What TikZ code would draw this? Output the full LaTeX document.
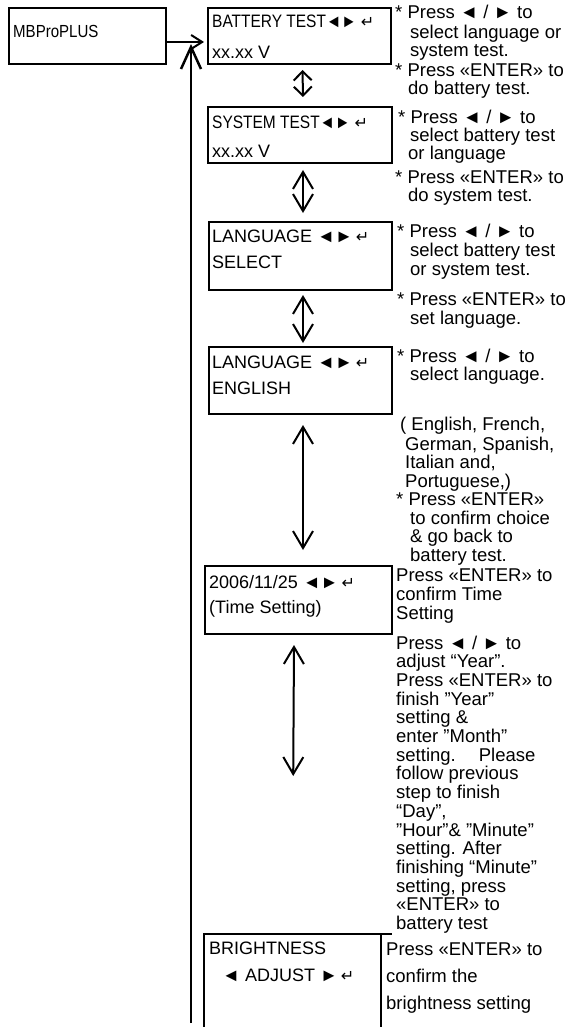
\documentclass[tikz,border=0pt]{standalone}
\usepackage{fontspec}
\setmainfont{Liberation Sans}
\newfontfamily\narrowf[FakeStretch=0.86]{Liberation Sans}
\newfontfamily\dvs{DejaVu Sans}
\usetikzlibrary{arrows.meta,calc}
\newcommand\ent{{\dvs\fontsize{16}{16}\selectfont ↵}}
\tikzset{
  box/.style={draw, line width=2pt, inner sep=0pt, anchor=north west},
  lbl/.style={anchor=base west, inner sep=0pt, font=\fontsize{18.5}{18.5}\selectfont},
  blbl/.style={anchor=base west, inner sep=0pt, font=\fontsize{18}{18}\selectfont},
  slbl/.style={anchor=base west, inner sep=0pt, font=\fontsize{18}{18}\selectfont},
  nlbl/.style={anchor=base west, inner sep=0pt, font=\narrowf\fontsize{18}{18}\selectfont},
  dbl/.style={line width=2pt, {Straight Barb[length=17pt,width=20pt]}-{Straight Barb[length=17pt,width=20pt]}},
  dbls/.style={line width=2pt, {Straight Barb[length=9pt,width=18pt]}-{Straight Barb[length=9pt,width=18pt]}},
}
\begin{document}
\begin{tikzpicture}[x=1pt,y=-1pt]
\useasboundingbox (0,0) rectangle (567,1027);
% boxes
\node[box, minimum width=157pt, minimum height=56pt] (mb) at (8,7) {};
\node[box, minimum width=183pt, minimum height=56pt] (bat) at (207,7) {};
\node[box, minimum width=184pt, minimum height=56pt] (sys) at (207,106) {};
\node[box, minimum width=183pt, minimum height=68pt] (ls) at (208,221) {};
\node[box, minimum width=183pt, minimum height=67pt] (en) at (208,346) {};
\node[box, minimum width=187pt, minimum height=68pt] (tm) at (204,565) {};
\node[inner sep=0pt, anchor=north west, minimum width=177pt, minimum height=93pt] (br) at (204,934) {};
\draw[line width=2pt] (br.south west) -- (br.north west) -- ($(br.north east)+(11,0)$);
\draw[line width=2pt] (br.north east) -- (br.south east);
% box texts
\node[nlbl, font=\narrowf\fontsize{17.5}{17.5}\selectfont] (mbt) at (13,38) {MBProPLUS};
\node[nlbl] (bt1) at (212,28) {BATTERY TEST◄► \ent};
\node[slbl] (bt2) at (212,59) {xx.xx V};
\node[nlbl] (st1) at (212,129) {SYSTEM TEST◄► \ent};
\node[slbl] (st2) at (212,158) {xx.xx V};
\node[blbl] (ls1) at (212,242) {LANGUAGE ◄►\,\ent};
\node[blbl] (ls2) at (212,268) {SELECT};
\node[blbl] (en1) at (212,368) {LANGUAGE ◄►\,\ent};
\node[blbl] (en2) at (212,394) {ENGLISH};
\node[blbl] (tm1) at (209,588) {2006/11/25 ◄►\,\ent};
\node[blbl] (tm2) at (209,613) {(Time Setting)};
\node[blbl] (br1) at (209,954) {BRIGHTNESS};
\node[blbl] (br2) at (222,981) {◄ ADJUST ►\,\ent};
% connectors
\coordinate (h) at (204,42);
\draw[line width=2pt, -{Straight Barb[length=11pt,width=14pt]}] (mb.east |- h) -- (h);
\coordinate (vb) at (191,1023);
\coordinate (vt) at (191,44);
\draw[line width=2.5pt, -{Straight Barb[length=22pt,width=20pt]}] (vb) -- (vt);
\draw[dbls] ($(bat.south)+(3,5)$) -- ($(sys.north)+(3,-9)$);
\draw[dbl] ($(sys.south)+(3,6)$) -- ($(ls.north)+(2.5,-8)$);
\draw[dbl] ($(ls.south)+(2.5,4)$) -- ($(en.north)+(2.5,-3)$);
\draw[dbl] ($(en.south)+(2.5,10)$) -- ($(tm.north)+(4.5,-15)$);
\draw[dbl] ($(tm.south)+(-4.5,10)$) -- ($(br.north)+(0.5,-158)$);
% right-hand texts
\node[lbl] (a1) at (395,19) {* Press ◄ / ► to};
\node[lbl] (a2) at (410,39) {select language or};
\node[lbl] (a3) at (410,57) {system test.};
\node[lbl] (a4) at (395,77) {* Press «ENTER» to};
\node[lbl] (a5) at (408,95) {do battery test.};
\node[lbl] (b1) at (398,124) {* Press ◄ / ► to};
\node[lbl] (b2) at (410,142) {select battery test};
\node[lbl] (b3) at (408,160) {or language};
\node[lbl] (b4) at (395,184) {* Press «ENTER» to};
\node[lbl] (b5) at (408,201) {do system test.};
\node[lbl] (c1) at (397,237) {* Press ◄ / ► to};
\node[lbl] (c2) at (410,256) {select battery test};
\node[lbl] (c3) at (410,275) {or system test.};
\node[lbl] (c4) at (397,305) {* Press «ENTER» to};
\node[lbl] (c5) at (410,324) {set language.};
\node[lbl] (d1) at (397,362) {* Press ◄ / ► to};
\node[lbl] (d2) at (410,380) {select language.};
\node[lbl] (e1) at (400,430) {( English, French,};
\node[lbl] (e2) at (405,450) {German, Spanish,};
\node[lbl] (e3) at (405,468) {Italian and,};
\node[lbl] (e4) at (405,487) {Portuguese,)};
\node[lbl] (e5) at (396,505) {* Press «ENTER»};
\node[lbl] (e6) at (410,524) {to confirm choice};
\node[lbl] (e7) at (410,542) {\& go back to};
\node[lbl] (e8) at (410,561) {battery test.};
\node[lbl] (f1) at (396,581) {Press «ENTER» to};
\node[lbl] (f2) at (396,600) {confirm Time};
\node[lbl] (f3) at (396,619) {Setting};
\node[lbl] (g1) at (396,649) {Press ◄ / ► to};
\node[lbl] (g2) at (396,667.7) {adjust “Year”.};
\node[lbl] (g3) at (396,686.4) {Press «ENTER» to};
\node[lbl] (g4) at (396,705.1) {finish ”Year”};
\node[lbl] (g5) at (396,723.8) {setting \&};
\node[lbl] (g6) at (396,742.5) {enter ”Month”};
\node[lbl] (g7) at (396,761.2) {setting.\hspace*{23pt}Please};
\node[lbl] (g8) at (396,779.9) {follow previous};
\node[lbl] (g9) at (396,798.6) {step to finish};
\node[lbl] (g10) at (396,817.3) {“Day”,};
\node[lbl] (g11) at (396,836) {”Hour”\& ”Minute”};
\node[lbl] (g12) at (396,854.7) {setting. After};
\node[lbl] (g13) at (396,873.4) {finishing “Minute”};
\node[lbl] (g14) at (396,892.1) {setting, press};
\node[lbl] (g15) at (396,910.8) {«ENTER» to};
\node[lbl] (g16) at (396,929.5) {battery test};
\node[lbl] (k1) at (386,955) {Press «ENTER» to};
\node[lbl] (k2) at (386,982) {confirm the};
\node[lbl] (k3) at (386,1009) {brightness setting};
\end{tikzpicture}
\end{document}
